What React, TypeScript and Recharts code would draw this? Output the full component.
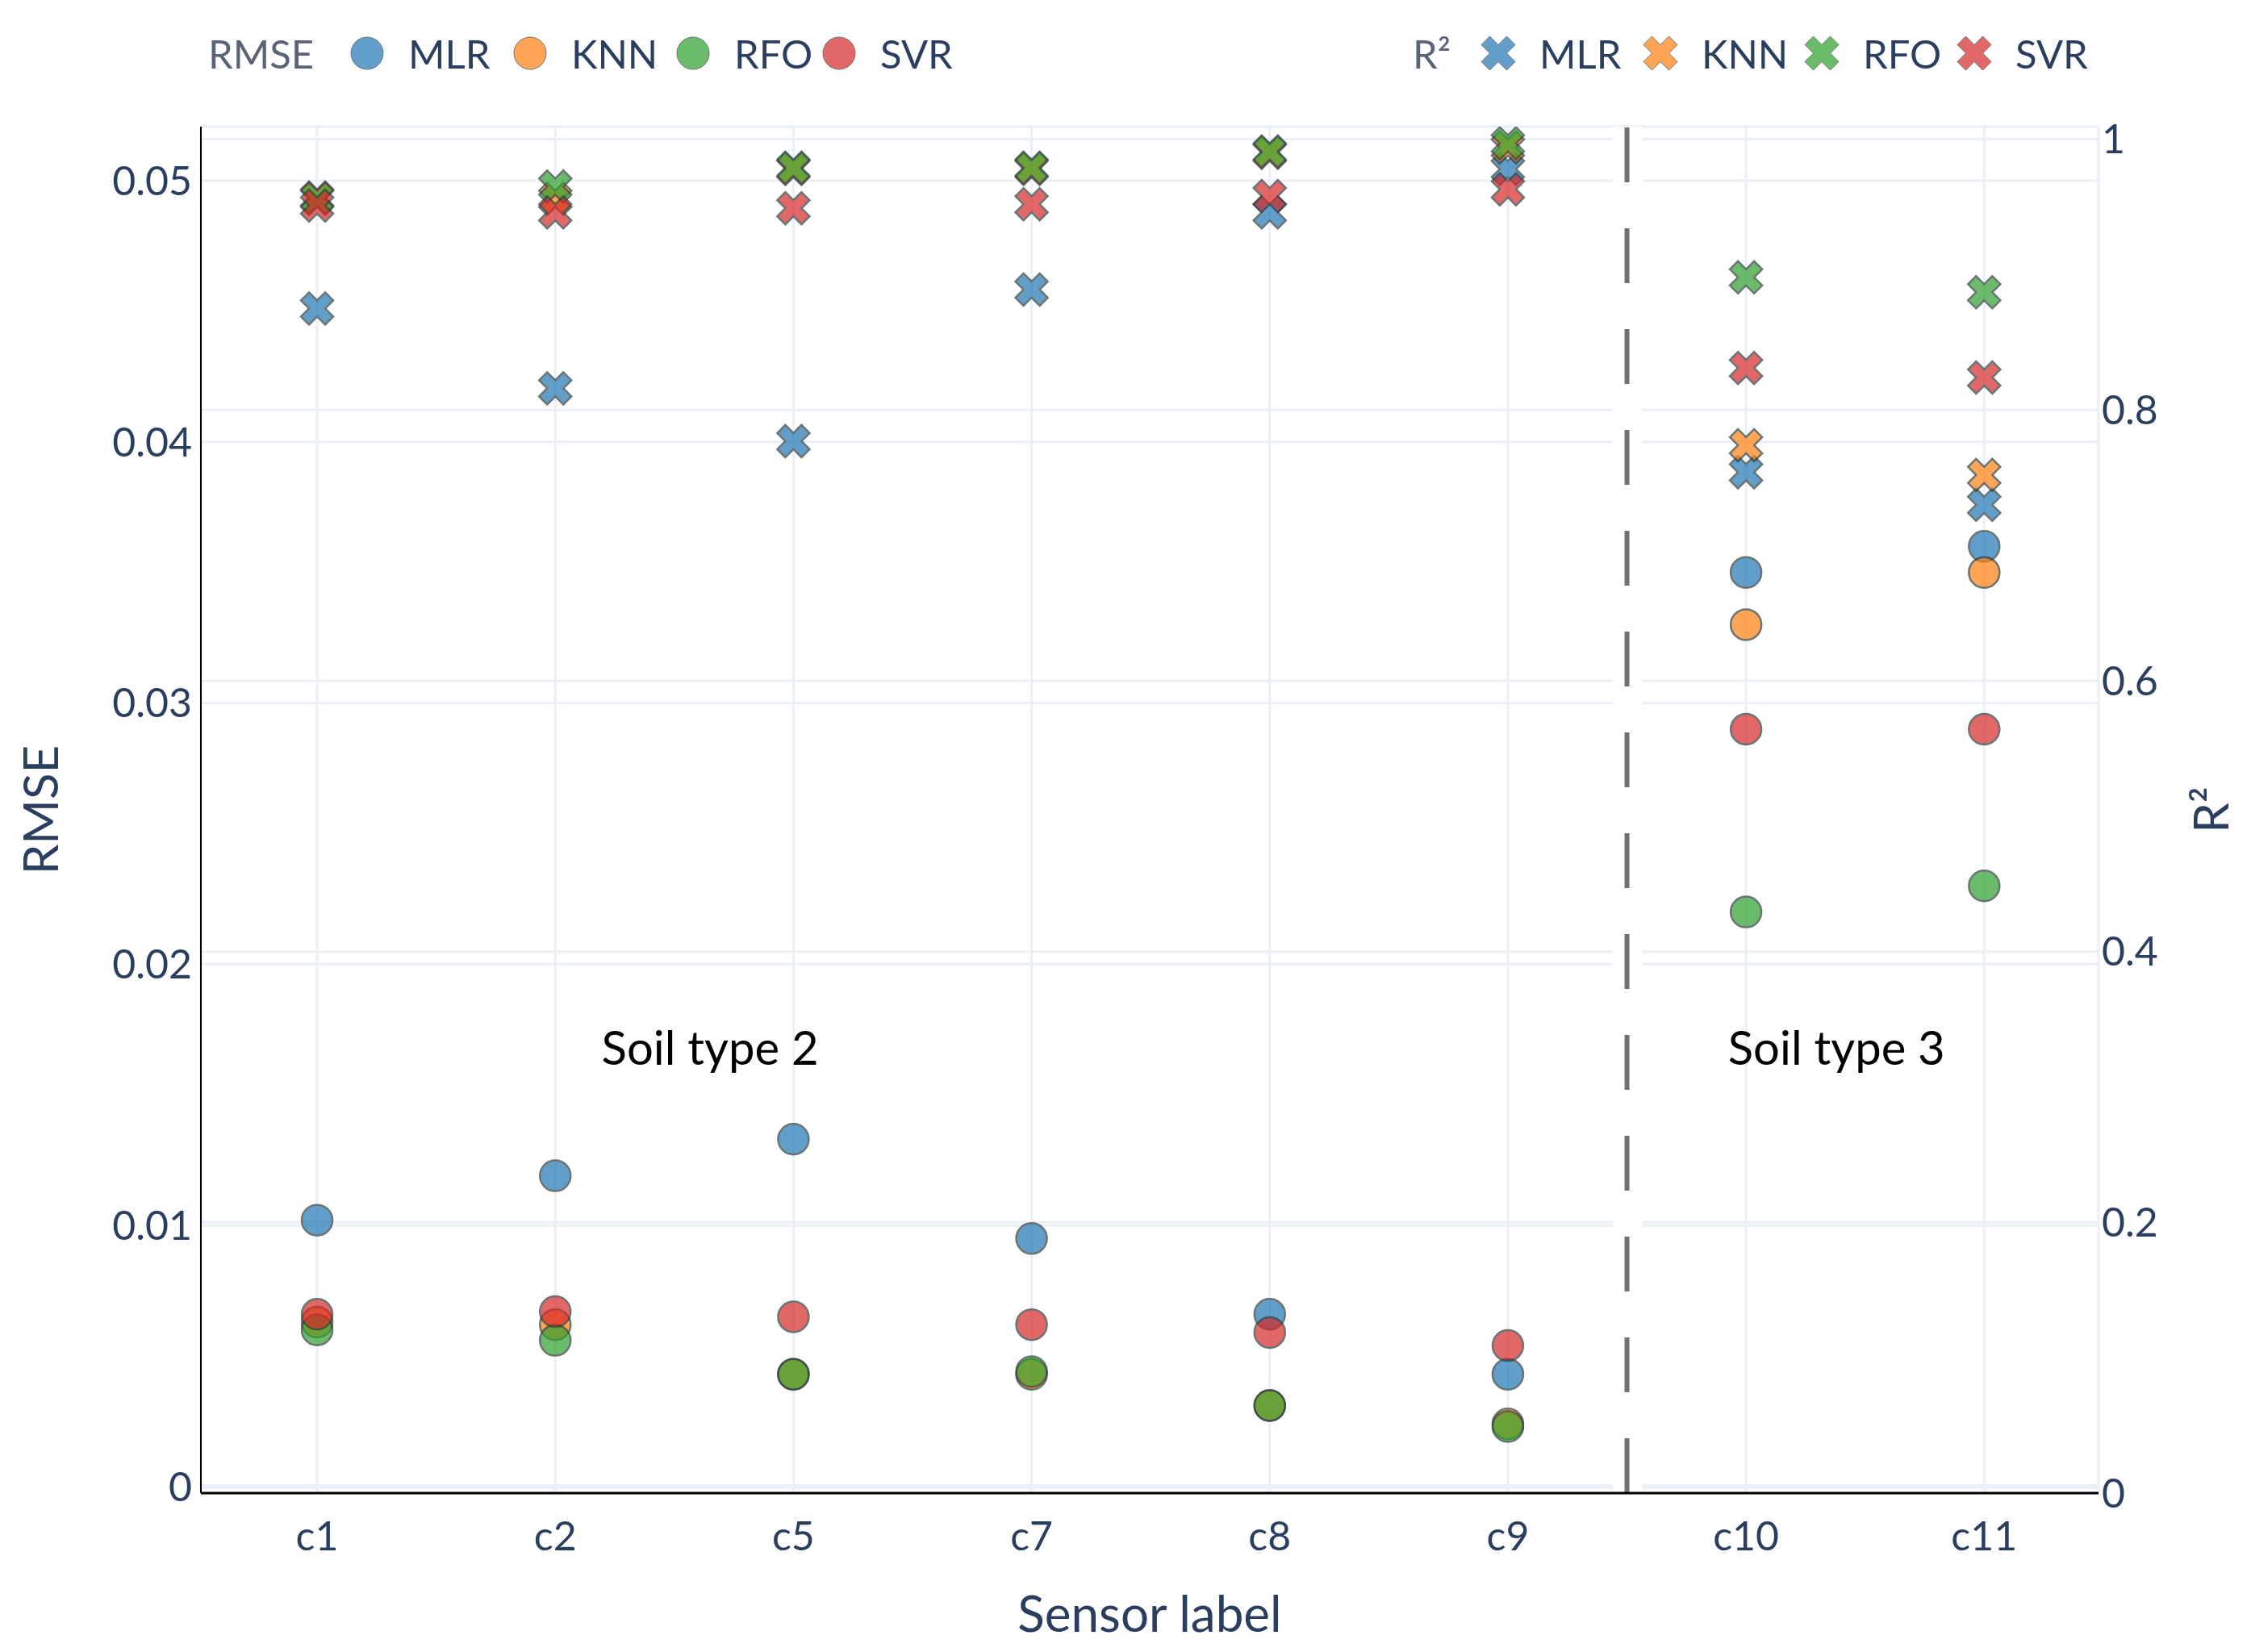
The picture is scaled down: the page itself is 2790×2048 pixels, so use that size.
import {
  ScatterChart,
  Scatter,
  XAxis,
  YAxis,
  CartesianGrid,
  ReferenceLine,
  ReferenceArea,
  ReferenceDot,
  Label,
} from "recharts";

const categories = ["c1", "c2", "c5", "c7", "c8", "c9", "c10", "c11"];

const rmseMLR = [0.0102, 0.0119, 0.0133, 0.0095, 0.0066, 0.0043, 0.035, 0.036];
const rmseKNN = [0.0063, 0.0062, 0.0043, 0.0043, 0.0031, 0.0024, 0.033, 0.035];
const rmseRFO = [0.006, 0.0056, 0.0043, 0.0044, 0.0031, 0.0023, 0.022, 0.023];
const rmseSVR = [0.0066, 0.0067, 0.0065, 0.0062, 0.0059, 0.0054, 0.029, 0.029];

const r2MLR = [0.875, 0.816, 0.777, 0.889, 0.946, 0.978, 0.754, 0.73];
const r2KNN = [0.957, 0.956, 0.978, 0.978, 0.99, 0.994, 0.774, 0.752];
const r2RFO = [0.956, 0.965, 0.979, 0.979, 0.991, 0.997, 0.898, 0.887];
const r2SVR = [0.951, 0.946, 0.949, 0.952, 0.958, 0.963, 0.831, 0.824];

const rmseTicks = [0, 0.01, 0.02, 0.03, 0.04, 0.05];
const r2Ticks = [0, 0.2, 0.4, 0.6, 0.8, 1];

const models = ["MLR", "KNN", "RFO", "SVR"];
const colors = ["#1f77b4", "#ff7f0e", "#2ca02c", "#d62728"];
const rmseSeries = [rmseMLR, rmseKNN, rmseRFO, rmseSVR];
const r2Series = [r2MLR, r2KNN, r2RFO, r2SVR];

const textColor = "#2a3f5f";
const gridColor = "#EBF0F8";
const font = "Lato";

// legend layout (marker centres in px)
const rmseLegendX = [455, 657, 859, 1040];
const r2LegendX = [1857, 2058, 2258, 2447];

const toPoints = (values: number[]) => values.map((v, i) => ({ x: i, y: v }));

// plotly style "x" symbol
function xPath(a: number) {
  return (
    `M0,${a}l${a},${a}l${a},${-a}l${-a},${-a}l${a},${-a}l${-a},${-a}` +
    `l${-a},${a}l${-a},${-a}l${-a},${a}l${a},${a}l${-a},${a}l${a},${a}Z`
  );
}

const circleShape = (color: string) => (props: any) => (
  <circle
    cx={props.cx}
    cy={props.cy}
    r={19}
    fill={color}
    stroke="#2f3b3b"
    strokeWidth={2.5}
    opacity={0.7}
  />
);

const crossShape = (color: string) => (props: any) => (
  <path
    d={xPath(10)}
    transform={`translate(${props.cx},${props.cy})`}
    fill={color}
    stroke="#2f3b3b"
    strokeWidth={2.5}
    opacity={0.7}
  />
);

function LegendRow({
  title,
  titleX,
  centers,
  marker,
}: {
  title: string;
  titleX: number;
  centers: number[];
  marker: "circle" | "x";
}) {
  const row = {
    position: "absolute" as const,
    top: 36,
    height: 60,
    display: "flex",
    alignItems: "center",
    fontFamily: font,
    fontSize: 49,
    color: textColor,
    whiteSpace: "nowrap" as const,
  };
  return (
    <>
      <div style={{ ...row, left: titleX, color: "#5a6478" }}>{title}</div>
      {models.map((m, i) => (
        <div key={m} style={{ ...row, left: centers[i] - 22 }}>
          <svg width={44} height={44}>
            <g transform="translate(22,22)">
              {marker === "circle" ? (
                <circle r={20} fill={colors[i]} stroke="#2f3b3b" strokeWidth={1} opacity={0.7} />
              ) : (
                <path d={xPath(10.5)} fill={colors[i]} stroke="#2f3b3b" strokeWidth={1} opacity={0.7} />
              )}
            </g>
          </svg>
          <span style={{ marginLeft: 29 }}>{m}</span>
        </div>
      ))}
    </>
  );
}

export default function App() {
  const tickStyle = { fill: textColor, fontSize: 50, fontFamily: font };
  return (
    <div
      style={{
        position: "absolute",
        left: 0,
        top: 0,
        width: 2790,
        height: 2048,
        background: "#fff",
        overflow: "hidden",
      }}
    >
      <LegendRow title="RMSE" titleX={258} centers={rmseLegendX} marker="circle" />
      <LegendRow title="R²" titleX={1751} centers={r2LegendX} marker="x" />
      <ScatterChart width={2790} height={2048} margin={{ top: 157, right: 0, bottom: 0, left: 0 }}>
        <CartesianGrid yAxisId="left" stroke={gridColor} strokeWidth={3} />
        <CartesianGrid yAxisId="right" vertical={false} stroke={gridColor} strokeWidth={3} />
        <ReferenceLine yAxisId="left" y={0} stroke={gridColor} strokeWidth={6} zIndex={-90} />
        <ReferenceArea
          yAxisId="left"
          x1={5.44}
          x2={5.565}
          fill="#ffffff"
          fillOpacity={1}
          stroke="none"
          zIndex={-80}
        />
        <ReferenceLine
          yAxisId="left"
          x={5.5}
          stroke="#707070"
          strokeWidth={6}
          strokeDasharray="68 57"
          zIndex={-70}
        />
        <XAxis
          type="number"
          dataKey="x"
          domain={[-0.488, 7.48]}
          allowDataOverflow
          ticks={categories.map((_, i) => i)}
          tickFormatter={(i: number) => categories[i]}
          height={197}
          axisLine={{ stroke: "#000", strokeWidth: 3 }}
          tickLine={false}
          tickSize={0}
          tickMargin={35}
          tick={tickStyle}
        >
          <Label value="Sensor label" position="center" dy={51} fill={textColor} fontSize={62} fontFamily={font} />
        </XAxis>
        <YAxis
          yAxisId="left"
          type="number"
          dataKey="y"
          domain={[-0.00025, 0.05207]}
          ticks={rmseTicks}
          allowDataOverflow
          tickFormatter={(v: number) => String(v)}
          width={249}
          axisLine={{ stroke: "#000", strokeWidth: 2 }}
          tickLine={false}
          tickSize={0}
          tickMargin={11}
          tick={tickStyle}
        >
          <Label value="RMSE" angle={-90} position="center" dx={-74} fill={textColor} fontSize={60} fontFamily={font} />
        </YAxis>
        <YAxis
          yAxisId="right"
          orientation="right"
          type="number"
          dataKey="y"
          domain={[0, 1.0093]}
          ticks={r2Ticks}
          allowDataOverflow
          tickFormatter={(v: number) => String(v)}
          width={189}
          axisLine={false}
          tickLine={false}
          tickSize={0}
          tickMargin={4}
          tick={tickStyle}
        >
          <Label value="R²" angle={-90} position="center" dx={45} fill={textColor} fontSize={60} fontFamily={font} />
        </YAxis>
        {rmseSeries.map((vals, i) => (
          <Scatter
            key={`rmse-${models[i]}`}
            name={`RMSE ${models[i]}`}
            yAxisId="left"
            data={toPoints(vals)}
            shape={circleShape(colors[i])}
            isAnimationActive={false}
          />
        ))}
        {r2Series.map((vals, i) => (
          <Scatter
            key={`r2-${models[i]}`}
            name={`R2 ${models[i]}`}
            yAxisId="right"
            data={toPoints(vals)}
            shape={crossShape(colors[i])}
            isAnimationActive={false}
          />
        ))}
        <ReferenceDot yAxisId="left" x={1.65} y={0.01678} r={0} fill="none" stroke="none">
          <Label value="Soil type 2" position="center" fill="#000" fontSize={58} fontFamily={font} />
        </ReferenceDot>
        <ReferenceDot yAxisId="left" x={6.38} y={0.01678} r={0} fill="none" stroke="none">
          <Label value="Soil type 3" position="center" fill="#000" fontSize={58} fontFamily={font} />
        </ReferenceDot>
      </ScatterChart>
    </div>
  );
}
